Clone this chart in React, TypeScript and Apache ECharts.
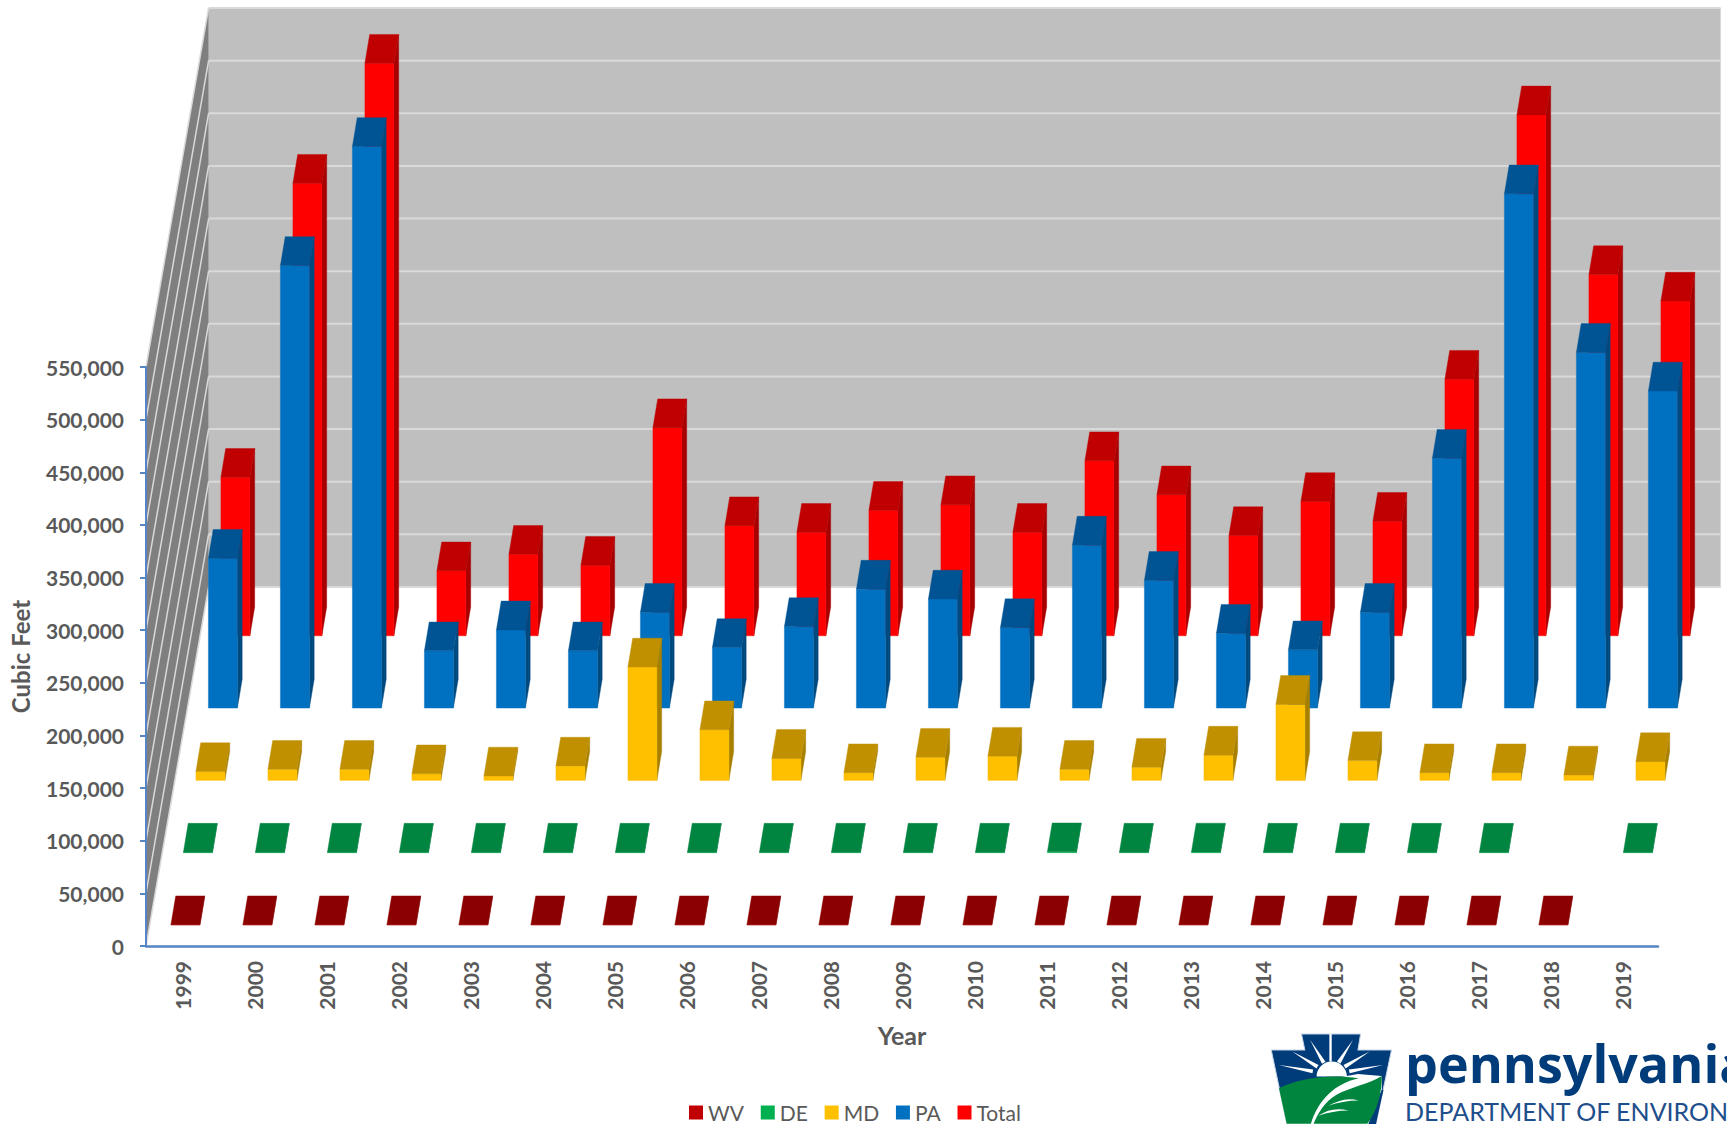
import React, { useEffect, useRef } from "react";
import * as echarts from "echarts";

const years = ["1999","2000","2001","2002","2003","2004","2005","2006","2007","2008","2009","2010","2011","2012","2013","2014","2015","2016","2017","2018","2019"];
const yTicks = [0,50000,100000,150000,200000,250000,300000,350000,400000,450000,500000,550000];
const wv = [300,300,300,300,300,300,300,300,300,300,300,300,300,300,300,300,300,300,300,300,null];
const de = [500,500,500,500,500,500,500,500,500,500,500,500,900,500,700,500,500,500,500,null,500];
const md = [8400,10500,10500,6300,4200,13600,107700,48100,20900,7300,22000,23000,10500,12500,24000,72200,18800,7300,7300,5200,17800];
const pa = [142300,420500,533500,54400,74300,54400,91000,57500,77400,113000,103600,76400,154800,121300,71100,55400,91000,237400,488500,337900,301200];
const total = [150600,429900,543900,61700,77400,66900,197700,104600,98300,119200,124500,98300,166300,133900,95200,127600,108800,243700,494800,343100,318000];

const DX = 12.5, DY = -72.3, FRONT_X = -11.1, FRONT_Y = -21, W = 29, TX = 4.8, TY = -28.8;
const WALL_X = 62.6, WALL_Y = -359;

function barRenderer(depth: number, front: string, side: string, top: string) {
  return (params: any, api: any) => {
    const v = api.value(1);
    if (v == null || isNaN(v)) return null;
    const i = api.value(0);
    const t = api.coord([i, v]);
    const b = api.coord([i, 0]);
    const x = t[0] + FRONT_X + DX * depth;
    const yTop = t[1] + FRONT_Y + DY * depth;
    const yBase = b[1] + FRONT_Y + DY * depth;
    const poly = (points: number[][], fill: string) => ({ type: "polygon", shape: { points }, style: { fill, stroke: fill, lineWidth: 0.4 } });
    return {
      type: "group",
      children: [
        poly([[x + W, yBase], [x + W + TX, yBase + TY], [x + W + TX, yTop + TY], [x + W, yTop]], side),
        poly([[x, yBase], [x + W, yBase], [x + W, yTop], [x, yTop]], front),
        poly([[x, yTop], [x + W, yTop], [x + W + TX, yTop + TY], [x + TX, yTop + TY]], top),
      ],
    };
  };
}

function wallRenderer(params: any, api: any) {
  const v = api.value(1);
  const p = api.coord([0, v]);
  const x0 = p[0] - (api.size([1, 0])[0] / 2);
  const y = p[1];
  const xEnd = api.coord([years.length - 1, 0])[0] + api.size([1, 0])[0] / 2;
  const lineColor = "#D9D9D9";
  const children: any[] = [];
  if (params.dataIndex === 0) {
    const yT = api.coord([0, yTicks[yTicks.length - 1]])[1];
    children.push({ type: "polygon", shape: { points: [[x0 + WALL_X, y + WALL_Y], [xEnd + WALL_X, y + WALL_Y], [xEnd + WALL_X, yT + WALL_Y], [x0 + WALL_X, yT + WALL_Y]] }, style: { fill: "#BFBFBF" } });
    children.push({ type: "polygon", shape: { points: [[x0, y], [x0 + WALL_X, y + WALL_Y], [x0 + WALL_X, yT + WALL_Y], [x0, yT]] }, style: { fill: "#7F7F7F" } });
  }
  children.push({ type: "line", shape: { x1: x0 + WALL_X, y1: y + WALL_Y, x2: xEnd + WALL_X, y2: y + WALL_Y }, style: { stroke: lineColor, lineWidth: 2 } });
  children.push({ type: "line", shape: { x1: x0, y1: y, x2: x0 + WALL_X, y2: y + WALL_Y }, style: { stroke: lineColor, lineWidth: 1.5 } });
  return { type: "group", children };
}

const LOGO_BLUE = "#003B7A";
const LOGO_GREEN = "#00853F";
echarts.graphic.registerShape("logoHill", echarts.graphic.extendPath("M235 325 C290 297 380 280 472 295 C400 312 352 360 330 432 L258 432 Z", {}));
echarts.graphic.registerShape("logoLeaf", echarts.graphic.extendPath("M541 288 C505 312 445 322 405 345 C372 365 350 400 338 432 L498 432 C528 392 541 340 541 288 Z", {}));
echarts.graphic.registerShape("logoVeinA", echarts.graphic.extendPath("M382 378 C410 362 440 352 472 362 C440 362 410 368 382 378 Z", {}));
echarts.graphic.registerShape("logoVeinB", echarts.graphic.extendPath("M352 408 C380 388 410 384 442 392 C410 392 380 398 352 408 Z", {}));

const rayTips = [[328,180],[455,180],[505,215],[545,255],[275,215],[235,255]];

function rayPolys() {
  return rayTips.map(([x, y]) => {
    const cx = 390, cy = 285;
    const nx = -(y - cy), ny = x - cx;
    const l = Math.hypot(nx, ny);
    const bx = cx + (x - cx) * 0.35, by = cy + (y - cy) * 0.35;
    const w = 6;
    return { type: "polygon", shape: { points: [[x, y], [bx + (nx / l) * w, by + (ny / l) * w], [bx - (nx / l) * w, by - (ny / l) * w]] }, style: { fill: "#fff" } };
  });
}

export default function App() {
  const ref = useRef<HTMLDivElement>(null);
  useEffect(() => {
    document.body.style.margin = "0";
    const chart = echarts.init(ref.current!, null, { renderer: "svg" });
    const bar = (name: string, values: (number | null)[], depth: number, front: string, side: string, top: string, legendColor: string) => ({
      name,
      type: "custom",
      coordinateSystem: "cartesian2d",
      clip: false,
      silent: true,
      itemStyle: { color: legendColor },
      encode: { x: 0, y: 1 },
      renderItem: barRenderer(depth, front, side, top),
      data: values.map((v, i) => [i, v]),
    });
    const axisFont = { fontFamily: "Lato", fontWeight: "bold" as const, color: "#595959" };
    chart.setOption({
      animation: false,
      backgroundColor: "#fff",
      grid: { left: 145, right: 69, top: 367, bottom: 178 },
      legend: {
        left: 684,
        top: 1097,
        icon: "rect",
        itemWidth: 14,
        itemHeight: 14,
        itemGap: 16.8,
        data: ["WV", "DE", "MD", "PA", "Total"],
        textStyle: { fontFamily: "Lato", fontSize: 21, color: "#595959" },
      },
      xAxis: {
        type: "category",
        data: years,
        z: 6,
        name: "Year",
        nameLocation: "middle",
        nameGap: 76,
        nameTextStyle: { ...axisFont, fontSize: 25 },
        axisLine: { lineStyle: { color: "#5585C2", width: 2.5 } },
        axisTick: { show: false },
        axisLabel: { ...axisFont, fontSize: 21, rotate: 90, interval: 0, margin: 15 },
      },
      yAxis: {
        type: "value",
        min: 0,
        max: 550000,
        interval: 50000,
        z: 6,
        name: "Cubic Feet",
        nameLocation: "middle",
        nameGap: 114,
        nameTextStyle: { ...axisFont, fontSize: 24 },
        axisLine: { show: true, lineStyle: { color: "#5585C2", width: 2 } },
        axisTick: { show: true, length: 6, lineStyle: { color: "#5585C2", width: 2 } },
        splitLine: { show: false },
        axisLabel: { ...axisFont, fontSize: 21, margin: 22, formatter: (v: number) => v.toLocaleString("en-US") },
      },
      series: [
        { type: "custom", name: "walls", clip: false, silent: true, encode: { x: 0, y: 1 }, renderItem: wallRenderer, data: yTicks.map((v) => [0, v]) },
        bar("Total", total, 4, "#FF0000", "#A80000", "#C00000", "#FF0000"),
        bar("PA", pa, 3, "#0070C0", "#004A80", "#005494", "#0070C0"),
        bar("MD", md, 2, "#FFC000", "#A88000", "#C09000", "#FFC000"),
        bar("DE", de, 1, "#00B050", "#00703A", "#008540", "#00B050"),
        bar("WV", wv, 0, "#C00000", "#800000", "#8B0000", "#C00000"),
      ],
      graphic: [
        {
          type: "group",
          x: 1200,
          y: 980,
          scaleX: 1 / 2.975,
          scaleY: 1 / 3,
          silent: true,
          children: [
            { type: "polygon", shape: { points: [[302,162],[478,162],[470,210],[570,210],[522,440],[260,440],[212,210],[312,210]] }, style: { fill: LOGO_BLUE, stroke: "#C8D4E4", lineWidth: 3 } },
            { type: "polygon", shape: { points: [[385,162],[392,162],[392,245],[385,245]] }, style: { fill: "#fff" } },
            ...rayPolys(),
            { type: "sector", shape: { cx: 392, cy: 290, r0: 0, r: 45, startAngle: Math.PI, endAngle: 2 * Math.PI }, style: { fill: "#fff" } },
            { type: "polygon", shape: { points: [[235,325],[470,282],[541,288],[541,330],[500,440],[260,440]] }, style: { fill: "#fff" } },
            { type: "polygon", shape: { points: [[541,330],[546,330],[522,440],[498,440]] }, style: { fill: LOGO_BLUE } },
            { type: "logoHill", x: 0, y: 0, style: { fill: LOGO_GREEN } },
            { type: "logoLeaf", x: 0, y: 0, style: { fill: LOGO_GREEN } },
            { type: "logoVeinA", x: 0, y: 0, style: { fill: "#fff" } },
            { type: "logoVeinB", x: 0, y: 0, style: { fill: "#fff" } },
          ],
        },
        { type: "text", x: 1405, y: 1062, silent: true, style: { text: "pennsylvania", fontFamily: "Open Sans", fontWeight: "bold", fontSize: 52, fill: LOGO_BLUE, verticalAlign: "middle", align: "left" } },
        { type: "text", x: 1405, y: 1111, silent: true, style: { text: "DEPARTMENT OF ENVIRON", fontFamily: "Lato", fontSize: 25, fill: "#1F4E8C", verticalAlign: "middle", align: "left" } },
      ],
    });
    return () => chart.dispose();
  }, []);
  return <div ref={ref} style={{ position: "absolute", left: 0, top: 0, width: 1727, height: 1124, overflow: "hidden" }} />;
}
